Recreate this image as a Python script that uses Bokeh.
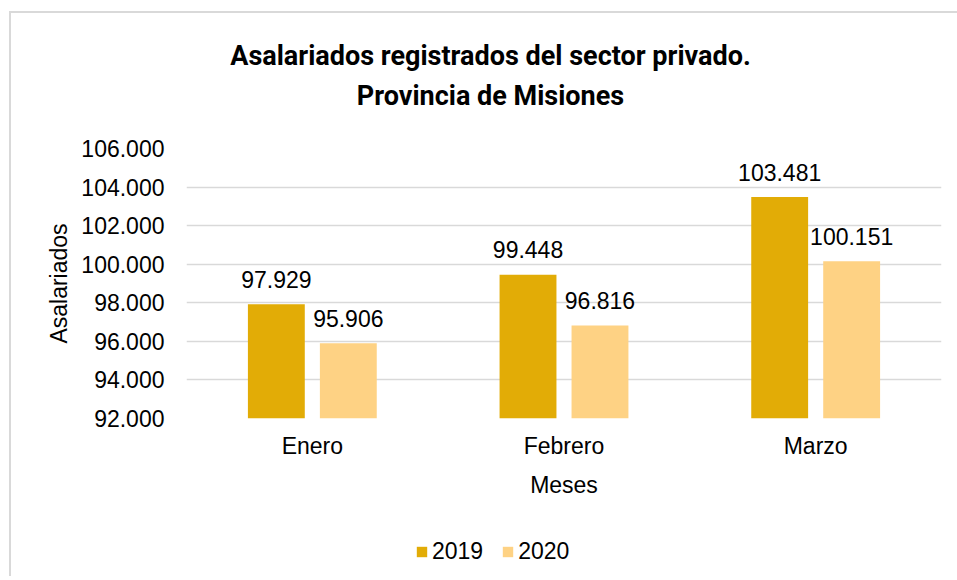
from bokeh.plotting import figure
from bokeh.layouts import column
from bokeh.models import (ColumnDataSource, FactorRange, FixedTicker, CustomJSTickFormatter,
                          Legend, LegendItem, Label)
from bokeh.transform import dodge
from bokeh.core.properties import value
from bokeh.embed import file_html
from bokeh.resources import INLINE

months = ["Enero", "Febrero", "Marzo"]
values_2019 = [97929, 99448, 103481]
values_2020 = [95906, 96816, 100151]
y_ticks = [92000, 94000, 96000, 98000, 100000, 102000, 104000, 106000]
title_line1 = "Asalariados registrados del sector privado."
title_line2 = "Provincia de Misiones"
series_names = ["2019", "2020"]

def fmt(v):
    return f"{v:,}".replace(",", ".")

src = ColumnDataSource(dict(
    month=months,
    v2019=values_2019,
    v2020=values_2020,
    l2019=[fmt(v) for v in values_2019],
    l2020=[fmt(v) for v in values_2020],
))

C2019 = "#E2AC06"
C2020 = "#FED284"
FONT = "Liberation Sans"
W = 957
FRAME_LEFT = 186   # frames of the stacked figures are aligned by the column layout

# ---------------- title strip ----------------
H0 = 130
p0 = figure(width=W, height=H0, x_range=(0, W), y_range=(0, H0),
            x_axis_type=None, y_axis_type=None, output_backend="svg",
            toolbar_location=None, min_border=0)
p0.title_location = None
p0.outline_line_color = None
p0.border_fill_alpha = 0
p0.background_fill_alpha = 0
for txt, yy in ((title_line1, 75), (title_line2, 35)):
    p0.add_layout(Label(x=490 - FRAME_LEFT, y=yy, x_units="screen", y_units="screen",
                        text=txt, text_align="center", text_baseline="alphabetic",
                        text_font="Roboto", text_font_style="bold",
                        text_font_size="27px", text_color="#000000"))

# ---------------- main chart ----------------
p = figure(width=W, height=375, x_range=FactorRange(*months),
           y_range=(y_ticks[0], y_ticks[-1]),
           output_backend="svg", toolbar_location=None,
           min_border_left=FRAME_LEFT, min_border_right=16, min_border_top=18,
           min_border_bottom=87)
p.title_location = None
p.border_fill_alpha = 0
p.outline_line_color = None
p.background_fill_color = "white"

bw = 0.226
off = 0.143
r1 = p.vbar(x=dodge("month", -off, range=p.x_range), top="v2019", bottom=y_ticks[0],
            width=bw, fill_color=C2019, line_color=None, source=src)
r2 = p.vbar(x=dodge("month", off, range=p.x_range), top="v2020", bottom=y_ticks[0],
            width=bw, fill_color=C2020, line_color=None, source=src)

for col, lab, d in (("v2019", "l2019", -off), ("v2020", "l2020", off)):
    p.text(x=dodge("month", d, range=p.x_range), y=col, text=lab, source=src,
           text_align="center", text_baseline="alphabetic", y_offset=-25,
           text_font=value(FONT), text_font_size="23px", text_color="#000000")

p.yaxis.ticker = FixedTicker(ticks=y_ticks)
p.yaxis.formatter = CustomJSTickFormatter(code="""
  const s = Math.round(tick).toString();
  return s.replace(/\\B(?=(\\d{3})+(?!\\d))/g, '.');
""")
for ax in (p.xaxis[0], p.yaxis[0]):
    ax.axis_line_color = None
    ax.major_tick_line_color = None
    ax.minor_tick_line_color = None
    ax.major_tick_out = 0
    ax.major_tick_in = 0
    ax.major_label_text_font = FONT
    ax.major_label_text_font_size = "23px"
    ax.major_label_text_color = "#000000"
    ax.axis_label_text_font = FONT
    ax.axis_label_text_font_size = "23px"
    ax.axis_label_text_font_style = "normal"
    ax.axis_label_text_color = "#000000"
p.yaxis.major_label_standoff = 22
p.yaxis.axis_label = "Asalariados"
p.yaxis.axis_label_standoff = 6
p.xaxis.major_label_standoff = 14
p.xaxis.axis_label = "Meses"
p.xaxis.axis_label_standoff = 10

p.xgrid.grid_line_color = None
p.ygrid.grid_line_color = "#d9d9d9"
p.ygrid.grid_line_width = 1.5

# ---------------- legend strip ----------------
H2 = 71
p2 = figure(width=W, height=H2, x_range=(0, W), y_range=(0, H2),
            x_axis_type=None, y_axis_type=None, output_backend="svg",
            toolbar_location=None, min_border=0)
p2.title_location = None
p2.outline_line_color = None
p2.border_fill_alpha = 0
p2.background_fill_alpha = 0
# hidden swatch renderers: only their legend swatches are drawn
g1 = p2.vbar(x="v2019", top="v2019", width=1, fill_color=C2019, line_color=None,
             source=src, visible=False)
g2 = p2.vbar(x="v2020", top="v2020", width=1, fill_color=C2020, line_color=None,
             source=src, visible=False)
legend = Legend(items=[LegendItem(label=series_names[0], renderers=[g1]),
                       LegendItem(label=series_names[1], renderers=[g2])],
                location=(415 - FRAME_LEFT, 11), orientation="horizontal",
                glyph_width=13, glyph_height=13, label_standoff=4, spacing=18,
                padding=0, margin=0, border_line_color=None, background_fill_alpha=0,
                inactive_fill_alpha=0,
                label_text_font=FONT, label_text_font_size="23px",
                label_text_color="#000000")
p2.add_layout(legend, "center")

layout = column(p0, p, p2, spacing=0)
layout.styles = {
    "background": "linear-gradient(#d9d9d9,#d9d9d9) 9px 11px / 2px 100% no-repeat, "
                  "linear-gradient(#d9d9d9,#d9d9d9) 9px 11px / 100% 2px no-repeat"
}

open("out.html", "w").write(file_html(layout, INLINE))
